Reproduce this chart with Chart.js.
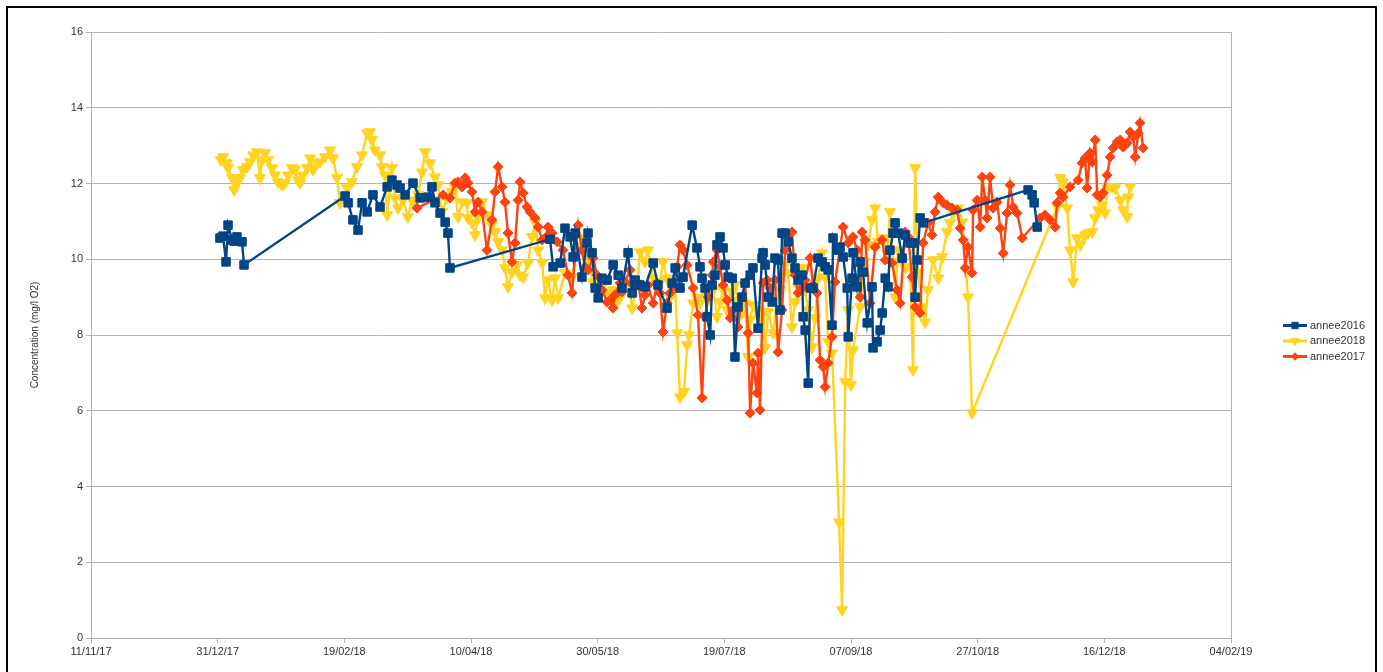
<!DOCTYPE html>
<html>
<head>
<meta charset="utf-8">
<title>Concentration O2</title>
<script src="https://cdn.jsdelivr.net/npm/chart.js@4.4.1/dist/chart.umd.min.js"></script>
<style>
  html, body { margin: 0; padding: 0; background: #fff; overflow: hidden; }
  #wrap { position: relative; width: 1383px; height: 672px; }
  #frame { position: absolute; left: 6px; top: 6px; width: 1371px; height: 700px; border: 2px solid #000; box-sizing: border-box; pointer-events: none; }
</style>
</head>
<body>
<div id="wrap">
  <canvas id="myChart" width="1383" height="672"></canvas>
  <div id="frame"></div>
</div>
<script>
// Days counted from 11/11/17
const ORIGIN = Date.UTC(2017, 10, 11);
const X_TICKS = [0, 50, 100, 150, 200, 250, 300, 350, 400, 450];
const Y_TICKS = [0, 2, 4, 6, 8, 10, 12, 14, 16];

const days2016 = [
    50.9, 52.1, 53.3, 54.1, 55.7, 56.5, 57.6, 59.6, 60.4,
    100.3, 101.5, 103.4, 105.4, 107.0, 109.0, 111.3, 114.1, 116.9, 118.8, 120.8,
    122.0, 124.0, 127.1, 129.9, 133.0, 134.6, 135.8, 137.8, 139.8, 140.9, 141.7,
    181.2, 182.4, 185.2, 187.1, 189.1, 190.3, 191.1, 193.8, 195.8, 196.2,
    197.8, 199.0, 200.2, 201.7, 203.7, 206.1, 208.1, 209.6, 212.0, 213.6,
    214.8, 216.7, 218.7, 221.9, 223.8, 227.4, 229.4, 230.6, 232.5, 233.7,
    237.3, 239.2, 240.4, 241.2, 242.4, 243.2, 244.4, 245.2, 246.3, 247.1,
    248.3, 249.5, 250.3, 251.5, 253.1, 254.2, 255.4, 257.0, 258.2, 260.2,
    261.3, 263.3, 264.9, 265.3, 266.1, 267.3, 268.9, 270.0, 271.2, 272.0,
    272.8, 274.0, 275.2, 276.7, 277.9, 279.1, 280.7, 281.1, 281.9, 283.1,
    283.9, 285.0, 287.0, 288.6, 289.8, 291.0, 292.5, 292.9, 294.5, 295.7,
    296.9, 298.5, 298.9, 300.4, 300.8, 302.4, 303.6, 304.8, 306.4, 308.3,
    308.7, 310.3, 311.5, 312.3, 313.5, 314.6, 315.4, 316.6, 317.4, 318.6,
    320.2, 321.4, 323.3, 324.5, 325.3, 326.1, 327.3, 328.5,
    369.9, 371.5, 372.3, 373.5
];
const conc2016 = [
    10.56, 10.61, 9.93, 10.90, 10.51, 10.48, 10.59, 10.46, 9.85,
    11.67, 11.49, 11.04, 10.77, 11.49, 11.25, 11.70, 11.38, 11.91, 12.09, 11.96,
    11.88, 11.70, 12.01, 11.62, 11.64, 11.91, 11.49, 11.22, 10.98, 10.69, 9.77,
    10.53, 9.80, 9.90, 10.82, 10.59, 10.06, 10.69, 9.53, 10.43, 10.69,
    10.17, 9.24, 8.98, 9.50, 9.45, 9.85, 9.58, 9.24, 10.17, 9.11,
    9.45, 9.32, 9.27, 9.90, 9.32, 8.71, 9.37, 9.77, 9.24, 9.53,
    10.90, 10.30, 9.80, 9.50, 9.24, 8.48, 8.00, 9.32, 9.58, 10.38,
    10.59, 10.30, 9.85, 9.53, 9.50, 7.42, 8.74, 9.00, 9.37, 9.58,
    9.77, 8.18, 10.03, 10.17, 9.85, 9.00, 8.87, 10.03, 9.98, 8.66,
    10.69, 10.69, 10.46, 10.03, 9.77, 9.45, 9.58, 8.48, 8.13, 6.73,
    9.24, 9.24, 10.03, 9.93, 9.80, 9.72, 8.26, 10.56, 10.24, 10.32,
    10.06, 9.24, 7.95, 9.50, 10.17, 9.27, 9.93, 9.66, 8.32, 9.27,
    7.66, 7.82, 8.13, 8.58, 9.50, 9.27, 10.24, 10.69, 10.96, 10.69,
    10.03, 10.64, 10.43, 10.43, 9.00, 9.98, 11.09, 10.96,
    11.83, 11.70, 11.49, 10.85
];

const days2018 = [
    51.3, 52.1, 53.7, 54.1, 55.7, 56.5, 57.6, 58.8, 60.0, 61.6,
    62.8, 64.0, 65.5, 66.7, 67.5, 68.7, 69.9, 71.5, 72.6, 73.8,
    75.4, 76.6, 77.8, 79.4, 80.5, 81.7, 82.5, 83.7, 85.3, 86.5,
    87.6, 89.2, 90.4, 92.4, 94.4, 95.5, 97.1, 98.3, 101.1, 103.0,
    105.0, 107.0, 109.0, 110.1, 110.9, 112.1, 114.1, 114.9, 116.1, 116.9,
    118.8, 120.0, 121.2, 123.2, 125.1, 126.7, 127.9, 129.1, 130.7, 131.9,
    133.8, 135.8, 137.0, 138.6, 140.5, 142.5, 143.7, 144.9, 146.5, 148.4,
    148.8, 150.4, 151.6, 152.8, 154.4, 156.3, 158.3, 159.5, 160.7, 162.3,
    163.4, 164.6, 166.2, 168.2, 169.4, 170.6, 172.5, 174.1, 175.3, 176.5,
    178.1, 179.2, 180.4, 182.0, 183.2, 184.4, 187.1, 189.9, 191.9, 193.8,
    195.8, 197.0, 198.2, 200.2, 202.1, 204.1, 206.1, 207.7, 208.8, 210.8,
    212.0, 213.6, 215.6, 216.7, 218.7, 219.9, 221.9, 223.5, 224.6, 225.8,
    227.4, 228.6, 230.6, 231.4, 232.5, 234.1, 235.3, 236.1, 237.7, 239.2,
    240.4, 242.4, 243.6, 245.6, 247.1, 248.3, 249.5, 251.1, 251.5, 253.1,
    254.2, 255.4, 257.0, 258.2, 259.4, 260.2, 261.3, 262.9, 264.1, 265.3,
    266.1, 267.3, 269.3, 270.8, 272.0, 274.0, 275.2, 276.7, 277.9, 279.1,
    280.7, 281.9, 283.1, 284.6, 285.8, 287.0, 288.6, 289.8, 291.0, 292.5,
    295.3, 296.5, 297.7, 298.9, 300.0, 300.8, 303.6, 305.2, 306.8, 308.3,
    309.5, 310.7, 312.7, 314.3, 315.4, 316.6, 317.4, 318.6, 320.2, 321.4,
    323.3, 324.5, 325.3, 326.5, 328.1, 329.3, 330.4, 332.4, 334.4, 336.0,
    337.9, 339.1, 340.3, 342.3, 343.9, 346.2, 347.8, 381.4, 382.6, 383.7,
    385.3, 386.5, 387.7, 389.3, 390.5, 392.4, 393.6, 395.2, 396.4, 397.6,
    399.1, 400.3, 401.1, 403.1, 404.3, 406.3, 407.4, 409.0, 409.4, 410.2
];
const conc2018 = [
    12.62, 12.70, 12.54, 12.41, 12.15, 11.83, 12.01, 12.15, 12.36, 12.44,
    12.57, 12.75, 12.83, 12.15, 12.62, 12.81, 12.62, 12.41, 12.22, 12.04,
    11.96, 12.01, 12.22, 12.41, 12.36, 12.09, 12.01, 12.22, 12.41, 12.67,
    12.36, 12.54, 12.57, 12.70, 12.88, 12.67, 12.15, 11.49, 11.88, 12.04,
    12.44, 12.75, 13.33, 13.36, 13.15, 12.88, 12.75, 12.44, 12.22, 11.17,
    12.41, 11.62, 11.35, 11.56, 11.12, 11.56, 11.49, 11.70, 12.30, 12.83,
    12.54, 12.17, 11.96, 11.25, 11.62, 11.78, 11.88, 11.12, 11.51, 11.49,
    11.09, 10.96, 10.64, 11.09, 11.51, 11.17, 10.90, 10.72, 10.46, 10.24,
    9.77, 9.27, 9.66, 9.85, 9.58, 9.53, 9.90, 10.59, 10.98, 10.24,
    9.90, 8.98, 9.45, 8.92, 9.50, 8.98, 9.64, 9.53, 10.32, 10.56,
    10.06, 9.77, 9.40, 9.14, 9.32, 9.11, 9.19, 8.87, 9.00, 9.27,
    9.37, 8.71, 9.37, 10.19, 9.93, 10.24, 9.50, 9.32, 9.40, 9.93,
    9.50, 9.00, 9.19, 8.05, 6.36, 6.50, 7.74, 8.00, 8.84, 9.00,
    8.84, 9.24, 8.92, 9.19, 8.48, 8.87, 9.19, 8.66, 8.92, 9.14,
    9.32, 8.92, 8.58, 8.84, 7.42, 8.40, 8.79, 8.66, 8.45, 8.61,
    7.66, 8.61, 8.05, 8.92, 9.19, 9.85, 9.64, 8.21, 8.87, 9.27,
    9.77, 9.19, 8.66, 7.68, 8.45, 9.50, 10.16, 9.53, 7.82, 7.52,
    3.06, 0.74, 6.76, 8.66, 6.68, 7.60, 8.74, 9.93, 10.38, 11.04,
    11.35, 10.46, 10.56, 10.16, 11.25, 9.93, 9.00, 10.24, 9.93, 9.77,
    9.80, 7.08, 12.41, 9.66, 8.74, 8.34, 9.19, 9.98, 9.50, 10.06,
    10.72, 10.96, 11.22, 11.35, 10.98, 9.00, 5.94, 11.38, 12.15, 12.04,
    11.35, 10.24, 9.40, 10.56, 10.38, 10.64, 10.69, 10.72, 11.09, 11.30,
    11.43, 11.22, 11.88, 11.91, 11.88, 11.56, 11.30, 11.12, 11.64, 11.91
];

const days2017 = [
    128.7, 135.0, 139.0, 141.7, 143.7, 144.9, 146.5, 147.7, 148.8, 150.4,
    151.6, 152.8, 154.4, 156.3, 158.3, 159.5, 160.7, 162.3, 163.4, 164.6,
    166.2, 167.4, 168.6, 169.4, 170.6, 172.1, 173.3, 175.3, 176.5, 178.1,
    179.2, 180.4, 182.0, 184.0, 186.3, 188.3, 189.9, 191.1, 192.3, 193.8,
    195.0, 196.2, 198.2, 199.8, 201.7, 203.7, 204.9, 206.1, 206.9, 208.8,
    209.6, 210.8, 212.8, 214.0, 216.0, 217.5, 218.7, 219.9, 221.9, 223.5,
    224.6, 225.8, 227.4, 228.6, 229.8, 231.4, 232.5, 233.7, 235.3, 237.7,
    239.6, 241.2, 242.4, 243.6, 245.2, 245.6, 247.1, 248.3, 249.5, 251.1,
    252.3, 253.5, 255.4, 257.0, 258.2, 259.4, 260.2, 261.3, 262.9, 263.3,
    264.1, 265.3, 266.9, 268.1, 270.0, 271.2, 272.8, 274.0, 275.2, 276.7,
    277.9, 279.1, 280.7, 281.9, 283.9, 285.0, 286.6, 287.8, 289.0, 289.8,
    291.0, 292.5, 293.7, 296.9, 298.9, 300.8, 302.4, 303.6, 304.4, 305.6,
    307.5, 309.5, 312.3, 313.5, 316.2, 318.2, 319.4, 321.4, 322.6, 324.1,
    325.3, 327.3, 328.5, 330.4, 332.0, 333.2, 334.4, 336.4, 337.9, 339.9,
    341.9, 343.1, 344.3, 345.1, 346.2, 347.8, 348.2, 349.8, 351.0, 351.8,
    353.0, 353.7, 354.9, 356.1, 357.7, 358.9, 360.1, 361.6, 362.8, 364.0,
    365.6, 367.6, 374.7, 376.6, 378.6, 380.6, 381.4, 382.6, 383.7, 386.5,
    389.7, 391.2, 392.4, 393.2, 394.4, 395.2, 396.4, 397.2, 398.3, 399.5,
    401.1, 402.3, 403.5, 405.1, 406.3, 407.4, 409.0, 410.2, 411.4, 412.2,
    413.4, 414.1, 415.3
];
const conc2017 = [
    11.35, 11.56, 11.70, 11.62, 12.01, 12.04, 11.91, 12.15, 12.01, 11.78,
    11.25, 11.51, 11.25, 10.24, 11.04, 11.78, 12.44, 11.91, 11.51, 10.69,
    9.93, 10.43, 11.56, 12.04, 11.75, 11.38, 11.25, 11.09, 10.85, 10.51,
    10.56, 10.85, 10.69, 10.46, 10.24, 9.58, 9.11, 10.11, 10.90, 10.24,
    9.80, 9.72, 10.03, 9.58, 9.19, 8.87, 8.92, 8.71, 9.06, 9.37,
    9.14, 9.40, 9.72, 9.32, 9.37, 8.71, 9.06, 9.32, 8.84, 9.37,
    9.11, 8.08, 8.84, 9.11, 9.27, 9.80, 10.38, 10.24, 9.85, 9.24,
    8.53, 6.34, 8.48, 9.00, 9.58, 9.93, 10.24, 9.80, 9.32, 8.92,
    8.45, 8.66, 8.21, 9.00, 9.37, 8.05, 5.94, 7.26, 6.47, 7.52,
    6.02, 9.37, 9.45, 9.24, 9.45, 7.55, 8.66, 10.24, 10.56, 10.72,
    9.58, 9.11, 9.24, 9.45, 10.03, 9.32, 9.11, 7.34, 7.16, 6.63,
    7.26, 7.95, 9.40, 10.85, 10.43, 10.59, 10.24, 9.00, 10.72, 10.51,
    8.84, 10.32, 10.51, 9.98, 9.90, 9.19, 8.84, 10.72, 10.59, 9.53,
    8.74, 8.58, 10.43, 10.96, 10.64, 11.25, 11.64, 11.49, 11.43, 11.35,
    11.30, 10.82, 10.51, 9.77, 10.32, 9.64, 11.30, 11.56, 10.85, 12.17,
    11.56, 11.09, 12.17, 11.35, 11.51, 10.82, 10.16, 11.22, 11.96, 11.38,
    11.22, 10.56, 11.09, 11.17, 11.04, 10.85, 11.49, 11.75, 11.64, 11.91,
    12.09, 12.54, 12.67, 11.88, 12.81, 12.57, 13.15, 11.70, 11.64, 11.75,
    12.22, 12.70, 12.94, 13.10, 13.15, 12.96, 13.07, 13.36, 13.23, 12.70,
    13.33, 13.60, 12.94
];

const FONT = 'Liberation Sans, Arial, sans-serif';
const GRID = '#b3b3b3';
const TEXT = '#333333';

function toPoints(days, vals) {
    return days.map((d, i) => ({ x: d, y: vals[i] }));
}

function dayLabel(d) {
    const t = new Date(ORIGIN + d * 86400000);
    const dd = String(t.getUTCDate()).padStart(2, '0');
    const mm = String(t.getUTCMonth() + 1).padStart(2, '0');
    const yy = String(t.getUTCFullYear()).slice(2);
    return dd + '/' + mm + '/' + yy;
}

function series(label, days, vals, color, style, radius, rotation, order) {
    return {
        label: label,
        data: toPoints(days, vals),
        borderColor: color,
        backgroundColor: color,
        borderWidth: 2.4,
        pointStyle: style,
        pointRadius: radius,
        pointRotation: rotation,
        pointBorderWidth: 1,
        pointBackgroundColor: color,
        pointBorderColor: color,
        tension: 0,
        order: order
    };
}

// Plot frame on the right side
const rightEdge = {
    id: 'rightEdge',
    beforeDatasetsDraw(chart) {
        const { ctx, chartArea } = chart;
        ctx.save();
        ctx.strokeStyle = GRID;
        ctx.lineWidth = 1;
        ctx.beginPath();
        ctx.moveTo(Math.round(chartArea.right) + 0.5, chartArea.top);
        ctx.lineTo(Math.round(chartArea.right) + 0.5, chartArea.bottom);
        ctx.stroke();
        ctx.restore();
    }
};

// Legend with line + marker, to the right of the plot
const sideLegend = {
    id: 'sideLegend',
    afterDraw(chart) {
        const { ctx, chartArea } = chart;
        const x0 = chartArea.right + 52;
        const yMid = (chartArea.top + chartArea.bottom) / 2 + 6;
        ctx.save();
        chart.data.datasets.forEach((ds, i) => {
            const y = yMid + (i - 1) * 15.5;
            ctx.strokeStyle = ds.borderColor;
            ctx.fillStyle = ds.borderColor;
            ctx.lineWidth = 3;
            ctx.beginPath();
            ctx.moveTo(x0, y);
            ctx.lineTo(x0 + 24, y);
            ctx.stroke();
            ctx.lineWidth = 1;
            Chart.helpers.drawPoint(ctx, {
                pointStyle: ds.pointStyle,
                radius: ds.pointRadius * 0.75,
                rotation: ds.pointRotation,
                borderWidth: 1
            }, x0 + 12, y);
            ctx.fillStyle = TEXT;
            ctx.font = '11px ' + FONT;
            ctx.textBaseline = 'middle';
            ctx.fillText(ds.label, x0 + 27, y);
        });
        ctx.restore();
    }
};

const config = {
    type: 'line',
    data: {
        datasets: [
            series('annee2016', days2016, conc2016, '#004586', 'rect', 6, 0, 0),
            series('annee2018', days2018, conc2018, '#ffd320', 'triangle', 6.4, 180, 2),
            series('annee2017', days2017, conc2017, '#ff420e', 'rectRot', 5, 0, 1)
        ]
    },
    options: {
        responsive: false,
        animation: false,
        events: [],
        layout: { padding: { top: 32, right: 152, left: 0, bottom: 0 } },
        plugins: {
            legend: { display: false },
            tooltip: { enabled: false }
        },
        scales: {
            x: {
                type: 'linear',
                min: X_TICKS[0],
                max: X_TICKS[X_TICKS.length - 1],
                afterBuildTicks: (scale) => { scale.ticks = X_TICKS.map(v => ({ value: v })); },
                afterFit: (scale) => { scale.height = 34; },
                grid: { drawOnChartArea: false, drawTicks: true, tickLength: 5, color: GRID },
                border: { display: true, color: GRID },
                ticks: {
                    autoSkip: false,
                    maxRotation: 0,
                    padding: 2,
                    color: TEXT,
                    font: { family: FONT, size: 11 },
                    callback: (v) => dayLabel(v)
                }
            },
            y: {
                min: Y_TICKS[0],
                max: Y_TICKS[Y_TICKS.length - 1],
                afterBuildTicks: (scale) => { scale.ticks = Y_TICKS.map(v => ({ value: v })); },
                afterFit: (scale) => { scale.width = 91; },
                grid: { color: GRID, tickLength: 5 },
                border: { display: true, color: GRID },
                ticks: {
                    padding: 3,
                    color: TEXT,
                    font: { family: FONT, size: 11 }
                },
                title: {
                    display: true,
                    text: 'Concentration (mg/l O2)',
                    color: TEXT,
                    font: { family: FONT, size: 10 },
                    padding: { top: 29, bottom: 0 }
                }
            }
        }
    },
    plugins: [rightEdge, sideLegend]
};

const graph = new Chart(document.getElementById('myChart'), config);
</script>
</body>
</html>
